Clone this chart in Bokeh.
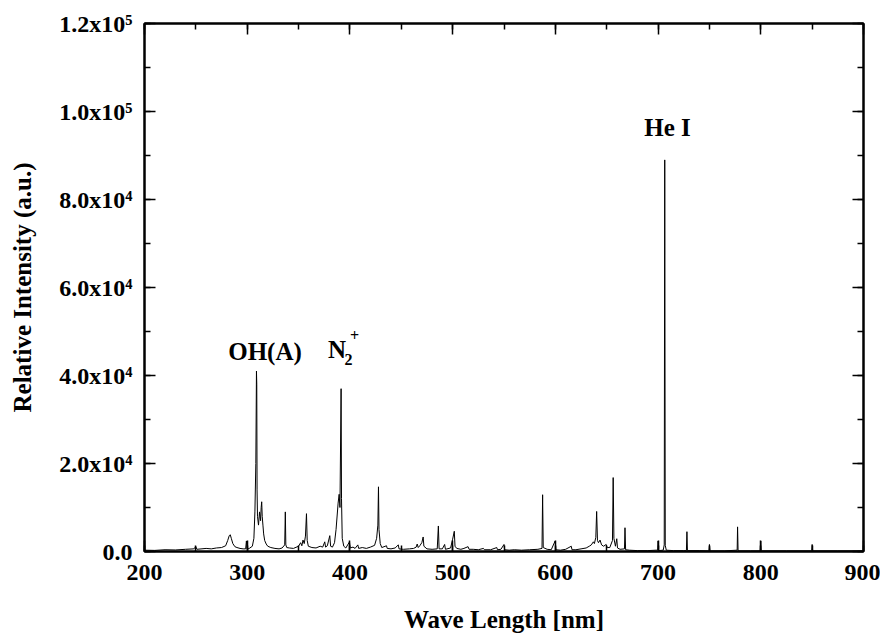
from bokeh.plotting import figure
from bokeh.models import (LinearAxis, Label, SingleIntervalTicker, CustomJSTickFormatter, Range1d)
from bokeh.embed import file_html
from bokeh.resources import INLINE

# ---- data ----
wavelength = [
    200, 210, 220, 230, 240, 248, 250, 251, 260, 265, 270, 275, 279, 281, 282.5, 283.5, 284.5, 286, 288, 290,
    293, 296, 298.5, 299.2, 299.8, 302, 305, 306.5, 307.5, 308.4, 309, 309.3, 309.6, 310, 311, 312, 312.5, 313,
    313.6, 314.1, 314.6, 315.3, 316, 317, 318.5, 320, 323, 327, 331, 334, 336.5, 337.1, 337.6, 338.5, 341, 345,
    350, 352, 353.2, 354.3, 355.5, 356.7, 357.7, 358.4, 359.5, 363, 367, 371, 373.5, 375.5, 376.3, 378, 380.4,
    381.2, 383, 385, 386.5, 388.5, 389.5, 390.3, 391.4, 391.8, 392.5, 394, 396, 399.6, 400.3, 403, 405, 407.7,
    408.5, 412, 416, 420, 424, 426, 427.2, 427.8, 428.3, 429.5, 431, 435.6, 436.3, 440, 444, 447.1, 447.8, 452,
    458, 462, 464.5, 465.5, 466.5, 468, 470, 471.3, 472, 475, 480, 485, 486.1, 486.8, 490, 492.2, 493, 498, 500,
    501.6, 502.3, 504, 508, 511, 515, 516, 520, 525, 530, 531, 537, 543, 543.6, 547, 550, 550.6, 555, 560, 567,
    575, 583, 587, 587.6, 588.2, 592, 596, 599.8, 600.5, 605, 610, 615.5, 616.2, 620, 625, 630, 633, 635, 637,
    638, 639.4, 640.2, 641, 642, 643.5, 645, 647, 649.5, 650.5, 653, 655.6, 656.3, 657, 658.5, 659.8, 660.5, 663,
    667.3, 667.8, 668.4, 672, 680, 690, 698, 699.6, 700, 700.5, 705, 706, 706.5, 707, 708, 715, 725, 727.6,
    728.1, 728.6, 740, 749.5, 750, 750.6, 765, 777, 777.4, 777.9, 790, 799.5, 800, 800.5, 825, 849.5, 850, 850.5,
    875, 900,
]
intensity = [
    300, 250, 400, 350, 500, 600, 1100, 500, 700, 600, 800, 900, 1300, 2500, 3600, 3800, 3000, 1800, 1100, 900,
    700, 600, 600, 2400, 500, 700, 1200, 3000, 9000, 20000, 41000, 38000, 14000, 8000, 6000, 9000, 8000, 7000,
    10000, 11300, 8000, 6000, 4000, 2500, 1700, 1200, 900, 700, 600, 800, 1500, 9000, 1500, 900, 800, 700,
    1200, 2000, 1300, 2600, 1800, 3500, 8600, 2500, 1200, 900, 800, 1200, 1000, 2200, 1000, 1300, 3600,
    1200, 1000, 2000, 5000, 11000, 13000, 10000, 37000, 12000, 3000, 1200, 800, 2200, 800, 1000, 700, 1500,
    700, 900, 700, 1000, 1400, 3000, 6000, 14700, 5000, 1800, 900, 1300, 700, 600, 800, 1500, 600, 500,
    600, 700, 1000, 1700, 900, 1300, 2000, 3300, 1200, 600, 500, 600, 5800, 600, 600, 1600, 500, 800, 2800,
    4600, 1200, 700, 500, 700, 1100, 500, 500, 400, 700, 400, 400, 900, 400, 500, 1600, 400, 300, 400, 300,
    400, 500, 700, 12900, 900, 500, 400, 2400, 400, 300, 500, 1200, 400, 400, 600, 800, 1200, 1500, 2200,
    1800, 3200, 9100, 2500, 2000, 2600, 1500, 1200, 1600, 900, 900, 2500, 16800, 3000, 1200, 2900, 800, 500,
    600, 5400, 400, 300, 200, 200, 300, 300, 2400, 200, 300, 1500, 89000, 1400, 300, 200, 200, 200,
    4500, 200, 200, 150, 1600, 150, 150, 300, 5600, 150, 150, 150, 2400, 150, 150, 150, 1600, 150,
    150, 150,
]

x_range = (200, 900)
y_range = (0, 120000)
x_major_step = 100
y_major_step = 20000

peak_labels = ["OH(A)", "He I"]
peak_label_x = [317.3, 709.2]
peak_label_y = [45500, 96400]

FONT = "Liberation Serif"

p = figure(width=880, height=635, output_backend="svg", toolbar_location=None,
           x_range=Range1d(*x_range), y_range=Range1d(*y_range),
           min_border_left=144, min_border_right=17, min_border_top=23, min_border_bottom=82,
           background_fill_color="white", border_fill_color="white")
p.xgrid.visible = False
p.ygrid.visible = False
p.outline_line_color = "black"
p.outline_line_width = 2

p.line(wavelength, intensity, line_color="black", line_width=1)

x_ticker = SingleIntervalTicker(interval=x_major_step, num_minor_ticks=2)
y_ticker = SingleIntervalTicker(interval=y_major_step, num_minor_ticks=2)

y_fmt = CustomJSTickFormatter(code="""
if (tick == 0) return "0.0";
const e = Math.floor(Math.log10(Math.abs(tick)) + 1e-9);
const m = tick / Math.pow(10, e);
const sup = {"0":"\u2070","1":"\u00b9","2":"\u00b2","3":"\u00b3","4":"\u2074","5":"\u2075","6":"\u2076","7":"\u2077","8":"\u2078","9":"\u2079"};
return m.toFixed(1) + "x10" + String(e).split("").map(c => sup[c]).join("");
""")
blank = CustomJSTickFormatter(code="return '';")

def style(ax):
    ax.axis_line_color = "black"
    ax.axis_line_width = 2
    ax.major_tick_in = 11
    ax.major_tick_out = 0
    ax.minor_tick_in = 6
    ax.minor_tick_out = 0
    ax.major_tick_line_color = "black"
    ax.minor_tick_line_color = "black"
    ax.major_tick_line_width = 1.5
    ax.minor_tick_line_width = 1.5
    ax.major_label_text_font = FONT
    ax.major_label_text_font_style = "bold"
    ax.major_label_text_font_size = "24px"
    ax.major_label_text_color = "black"
    ax.axis_label_text_font = FONT
    ax.axis_label_text_font_style = "bold"
    ax.axis_label_text_font_size = "25px"
    ax.axis_label_text_color = "black"

xa = p.xaxis[0]
xa.ticker = x_ticker
xa.axis_label = "Wave Length [nm]"
xa.major_label_standoff = 13
xa.axis_label_standoff = 23
style(xa)

ya = p.yaxis[0]
ya.ticker = y_ticker
ya.formatter = y_fmt
ya.axis_label = "Relative Intensity (a.u.)"
ya.major_label_standoff = 12
ya.axis_label_standoff = 20
style(ya)

top = LinearAxis(ticker=x_ticker, formatter=blank, major_label_standoff=0)
style(top)
p.add_layout(top, "above")
right = LinearAxis(ticker=y_ticker, formatter=blank, major_label_standoff=0)
style(right)
p.add_layout(right, "right")

for t, lx, ly in zip(peak_labels, peak_label_x, peak_label_y):
    p.add_layout(Label(x=lx, y=ly, text=t, text_font=FONT, text_font_style="bold",
                       text_font_size="25px", text_align="center", text_baseline="alphabetic",
                       text_color="black"))

# N2+ label: N with subscript 2 and superscript +
p.add_layout(Label(x=387.4, y=45800, text="N", text_font=FONT, text_font_style="bold",
                   text_font_size="25px", text_align="center", text_baseline="alphabetic", text_color="black"))
p.add_layout(Label(x=398.5, y=43700, text="2", text_font=FONT, text_font_style="bold",
                   text_font_size="16px", text_align="center", text_baseline="alphabetic", text_color="black"))
p.add_layout(Label(x=404.5, y=49100, text="+", text_font=FONT, text_font_style="bold",
                   text_font_size="16px", text_align="center", text_baseline="alphabetic", text_color="black"))

open("out.html", "w").write(file_html(p, INLINE))
